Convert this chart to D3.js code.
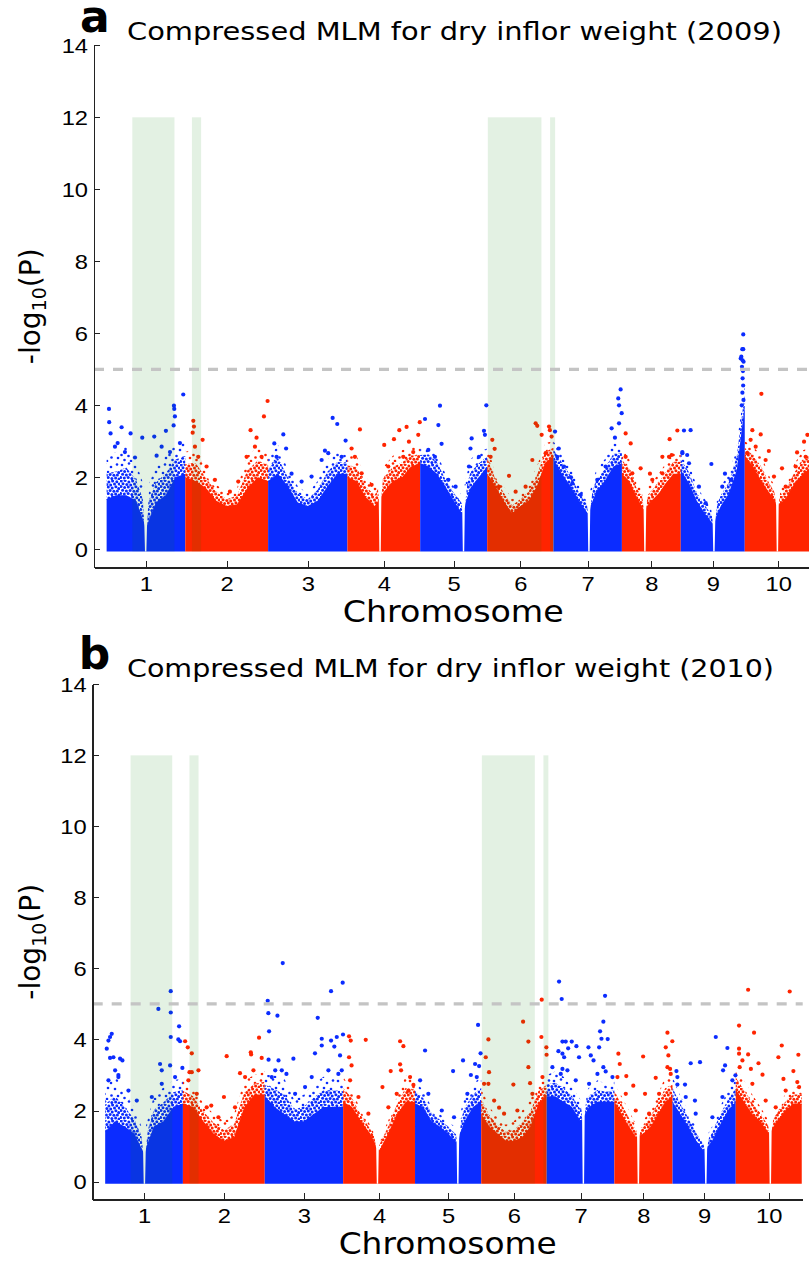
<!DOCTYPE html>
<meta charset="utf-8" />
<title>Compressed MLM for dry inflor weight</title>
<script src="https://cdn.jsdelivr.net/npm/d3@7/dist/d3.min.js"></script>

<style>
  body {
    margin: 0;
    padding: 0;
    background: #fff;
  }

  svg {
    display: block;
    font-family: "DejaVu Sans", sans-serif;
  }

  .axis path,
  .axis line {
    fill: none;
    stroke: #222;
    shape-rendering: crispEdges;
  }

  .axis path {
    stroke-width: 1.6;
  }

  .axis text {
    font-size: 21px;
    fill: #000;
  }
</style>

<body>
  <div id="chart"></div>
</body>

<script>
  // chromosome lengths in Mb
  const chromLengths = [73.5, 77.4, 74.1, 68.0, 62.6, 61.9, 64.0, 55.0, 59.8, 62.4];
  const chromLabels = ["1", "2", "3", "4", "5", "6", "7", "8", "9", "10"];
  const yTicks = [0, 2, 4, 6, 8, 10, 12, 14];
  const threshold = 5;

  // green bands: [chromosome, start Mb, end Mb], drawn up to 12
  const shadedRegions = [[1, 24.0, 63.4], [2, 6.2, 14.8], [6, 0.6, 50.7], [6, 58.8, 63.5]];
  const shadeTop = 12;

  // -log10(P) cloud, 9 evenly spaced samples along each chromosome
  // dense = top of the solid band, upper = top of the speckled band
  const denseA = [
    [1.4, 1.5, 1.5, 1.35, 0.6, 1.3, 1.5, 2.0, 2.1],
    [2.0, 1.9, 1.7, 1.35, 1.2, 1.25, 1.7, 2.0, 1.9],
    [1.9, 2.1, 1.75, 1.3, 1.2, 1.35, 1.75, 2.1, 2.1],
    [2.0, 1.9, 1.45, 1.2, 1.6, 1.9, 2.0, 2.3, 2.4],
    [2.4, 2.3, 2.1, 1.75, 1.35, 1.0, 1.7, 2.0, 2.3],
    [2.1, 1.75, 1.35, 1.0, 1.2, 1.35, 1.75, 2.4, 2.6],
    [2.5, 2.1, 1.75, 1.35, 1.0, 1.6, 1.9, 2.3, 2.4],
    [2.1, 1.9, 1.45, 1.1, 1.35, 1.55, 1.85, 2.1, 2.1],
    [2.2, 1.85, 1.35, 1.0, 0.7, 1.2, 1.55, 2.2, 4.0],
    [2.6, 2.3, 1.9, 1.55, 1.2, 1.45, 1.85, 2.1, 2.3]
  ];
  const upperA = [
    [2.7, 2.7, 2.9, 2.4, 1.6, 2.3, 2.6, 2.9, 3.0],
    [2.7, 2.8, 2.2, 1.8, 1.55, 1.7, 2.6, 2.85, 2.7],
    [2.5, 2.9, 2.2, 1.75, 1.55, 1.9, 2.5, 2.7, 2.6],
    [2.6, 2.6, 2.0, 1.75, 2.3, 2.6, 2.75, 2.85, 2.8],
    [2.8, 2.9, 2.7, 2.1, 1.75, 1.5, 2.5, 2.7, 2.8],
    [2.9, 2.1, 1.75, 1.4, 1.55, 1.8, 2.3, 2.95, 3.0],
    [3.0, 2.65, 2.3, 1.75, 1.4, 2.2, 2.5, 2.95, 2.9],
    [2.8, 2.5, 1.9, 1.6, 1.85, 2.1, 2.4, 2.7, 2.7],
    [2.75, 2.4, 1.75, 1.4, 1.1, 1.75, 2.1, 2.9, 4.6],
    [3.0, 2.85, 2.6, 2.0, 1.6, 1.9, 2.4, 2.75, 2.85]
  ];
  // thin empty columns (centromeres): [chromosome, Mb]
  const gapsA = [[1, 36.5], [4, 30.5], [5, 40.5], [7, 33.2], [8, 21.5], [9, 31.0], [10, 30.5]];
  // single markers standing out of the cloud: [chromosome, Mb, -log10(P)]
  const peaksA = [
    [1, 2.2, 3.9], [1, 2.4, 3.53], [1, 3.7, 3.22], [1, 14.0, 3.39], [1, 10.3, 2.95], [1, 22.4, 3.22],
    [1, 33.3, 3.1], [1, 44.5, 3.13], [1, 55.4, 3.29], [1, 62.9, 3.99], [1, 63.2, 3.9], [1, 63.8, 3.69],
    [1, 62.6, 3.44], [1, 71.6, 4.3],
    [1, 7.8, 2.85], [1, 17.1, 2.7], [1, 26.5, 2.55], [1, 46.7, 2.6], [1, 51.4, 2.85], [1, 59.2, 2.7], [1, 68.5, 2.95],
    [2, 7.5, 3.57], [2, 8.1, 3.41], [2, 6.9, 3.24], [2, 16.2, 3.04], [2, 61.0, 3.31], [2, 66.6, 3.1],
    [2, 73.5, 3.69], [2, 76.9, 4.12],
    [2, 9.0, 2.85], [2, 12.1, 2.57], [2, 19.9, 2.3], [2, 27.7, 1.93], [2, 41.7, 1.6], [2, 49.5, 1.88],
    [2, 57.3, 2.57], [2, 65.1, 2.85], [2, 71.3, 2.57],
    [3, 5.8, 2.94], [3, 14.2, 3.19], [3, 16.8, 2.8], [3, 53.1, 2.74], [3, 60.3, 3.65], [3, 64.6, 3.48],
    [3, 72.4, 3.02],
    [3, 7.9, 2.57], [3, 21.9, 2.1], [3, 31.3, 1.88], [3, 40.6, 2.02], [3, 50.0, 2.48], [3, 56.2, 2.67], [3, 68.7, 2.57],
    [4, 3.9, 2.8], [4, 11.7, 3.33], [4, 34.4, 2.9], [4, 43.5, 3.06], [4, 48.5, 3.31], [4, 55.3, 3.4],
    [4, 57.5, 2.99], [4, 66.2, 3.18], [4, 67.6, 3.53],
    [4, 7.0, 2.57], [4, 13.3, 2.11], [4, 22.6, 1.79], [4, 38.2, 2.3], [4, 52.2, 2.57], [4, 61.5, 2.7],
    [5, 4.5, 3.62], [5, 17.0, 3.45], [5, 18.5, 3.99], [5, 20.0, 2.93], [5, 48.1, 3.08], [5, 47.0, 2.8],
    [5, 59.6, 3.29], [5, 60.5, 3.18], [5, 61.8, 4.0],
    [5, 7.6, 2.76], [5, 13.8, 2.57], [5, 26.3, 1.93], [5, 33.1, 1.74], [5, 45.6, 2.3], [5, 54.9, 2.57],
    [6, 4.8, 3.04], [6, 7.0, 2.79], [6, 20.4, 2.04], [6, 45.3, 3.5], [6, 46.8, 3.43], [6, 50.9, 3.18],
    [6, 57.8, 3.41], [6, 58.6, 3.31], [6, 60.2, 3.13],
    [6, 3.2, 2.57], [6, 11.0, 1.74], [6, 26.6, 1.6], [6, 35.9, 1.74], [6, 42.2, 2.48], [6, 54.6, 2.67],
    [7, 1.5, 3.27], [7, 5.0, 2.8], [7, 16.4, 2.0], [7, 54.4, 3.36], [7, 57.5, 3.1], [7, 60.6, 4.19],
    [7, 61.3, 4.0], [7, 61.3, 3.5], [7, 62.8, 4.44], [7, 63.8, 3.78],
    [7, 3.6, 2.57], [7, 9.9, 2.3], [7, 17.7, 1.83], [7, 25.5, 1.51], [7, 41.0, 1.93], [7, 48.8, 2.3],
    [8, 3.5, 3.22], [8, 8.2, 2.94], [8, 17.5, 2.25], [8, 26.2, 2.1], [8, 37.8, 2.57], [8, 44.6, 3.06],
    [8, 46.5, 2.62], [8, 51.8, 3.3],
    [8, 3.5, 2.57], [8, 9.7, 2.11], [8, 28.4, 1.93], [8, 37.8, 2.11], [8, 44.0, 2.57],
    [9, 3.0, 3.3], [9, 9.2, 3.31], [9, 1.5, 2.7], [9, 6.0, 2.62], [9, 28.6, 2.37], [9, 41.3, 2.1],
    [9, 58.4, 5.97], [9, 57.5, 5.56], [9, 58.4, 5.56], [9, 56.0, 5.3], [9, 58.7, 5.21], [9, 57.2, 5.07],
    [9, 58.1, 4.95], [9, 57.8, 4.75], [9, 56.6, 5.35], [9, 57.8, 5.25], [9, 58.3, 4.55], [9, 57.6, 4.35],
    [9, 58.6, 4.15], [9, 57.0, 4.0],
    [9, 1.5, 2.67], [9, 7.7, 2.39], [9, 17.0, 1.74], [9, 23.3, 1.28], [9, 38.8, 1.74], [9, 46.6, 1.93],
    [10, 15.5, 4.32], [10, 7.1, 3.31], [10, 14.9, 3.19], [10, 5.5, 3.04], [10, 22.5, 2.73], [10, 58.5, 3.18],
    [10, 55.4, 2.99], [10, 48.9, 2.69], [10, 34.8, 2.25],
    [10, 2.4, 2.67], [10, 10.2, 2.85], [10, 19.5, 2.48], [10, 27.3, 2.02], [10, 38.2, 1.74], [10, 47.6, 2.3],
    [10, 56.9, 2.57]
  ];

  const denseB = [
    [1.4, 1.7, 1.55, 1.35, 0.8, 1.55, 1.7, 2.1, 2.2],
    [2.2, 2.1, 1.7, 1.35, 1.15, 1.25, 2.1, 2.45, 2.45],
    [2.4, 2.1, 1.9, 1.7, 1.7, 1.9, 2.1, 2.1, 2.1],
    [2.25, 2.1, 1.7, 1.35, 0.85, 1.35, 1.9, 2.25, 2.25],
    [2.2, 2.1, 1.7, 1.55, 1.35, 1.1, 1.7, 2.1, 2.25],
    [1.9, 1.55, 1.35, 1.15, 1.15, 1.25, 1.55, 2.2, 2.45],
    [2.4, 2.4, 2.25, 2.1, 1.7, 2.1, 2.25, 2.25, 2.25],
    [2.25, 1.9, 1.55, 1.25, 1.35, 1.55, 1.9, 2.25, 2.4],
    [2.25, 1.9, 1.55, 1.15, 0.85, 1.15, 1.6, 2.0, 2.25],
    [2.6, 2.25, 1.9, 1.7, 1.35, 1.7, 2.0, 2.2, 2.2]
  ];
  const upperB = [
    [2.8, 3.0, 2.55, 2.1, 1.35, 2.4, 2.65, 2.85, 2.9],
    [2.85, 2.65, 2.2, 1.9, 1.7, 1.9, 2.85, 3.0, 3.1],
    [3.0, 3.0, 2.9, 2.3, 2.45, 2.75, 2.95, 2.95, 2.9],
    [2.95, 2.55, 2.0, 1.6, 1.15, 1.7, 2.4, 3.0, 2.85],
    [2.85, 2.55, 2.1, 1.9, 1.7, 1.5, 2.4, 2.75, 2.95],
    [2.65, 2.1, 1.8, 1.6, 1.7, 2.0, 2.3, 2.85, 2.95],
    [3.0, 3.1, 2.95, 2.65, 2.3, 2.65, 2.85, 2.75, 2.85],
    [2.75, 2.4, 2.0, 1.6, 1.7, 2.1, 2.45, 2.95, 3.0],
    [2.95, 2.4, 2.0, 1.55, 1.15, 1.55, 2.1, 2.55, 2.95],
    [3.2, 2.85, 2.45, 2.1, 1.7, 2.1, 2.45, 2.65, 2.65]
  ];
  const gapsB = [[1, 37.1], [4, 32.5], [5, 40.5], [7, 34.7], [8, 22.7], [9, 31.5], [10, 32.7]];
  const peaksB = [
    [1, 1.5, 3.74], [1, 3.1, 3.97], [1, 4.6, 4.07], [1, 6.2, 4.16], [1, 4.6, 3.48], [1, 7.8, 3.5],
    [1, 14.1, 3.46], [1, 16.3, 3.41], [1, 9.4, 3.13], [1, 12.5, 3.0], [1, 50.3, 4.86], [1, 62.0, 5.36],
    [1, 62.0, 4.76], [1, 62.0, 4.07], [1, 69.9, 4.37], [1, 69.2, 4.0], [1, 70.8, 3.95], [1, 51.9, 3.31],
    [1, 53.5, 3.13], [1, 61.4, 3.27], [1, 73.0, 3.2],
    [1, 3.1, 2.85], [1, 12.5, 2.94], [1, 22.0, 2.56], [1, 29.9, 2.28], [1, 44.1, 2.38], [1, 53.5, 2.75], [1, 66.1, 2.94],
    [2, 2.1, 3.95], [2, 4.6, 3.78], [2, 8.4, 3.61], [2, 6.2, 3.08], [2, 8.4, 3.08], [2, 14.7, 3.13],
    [2, 41.4, 3.53], [2, 54.0, 3.05], [2, 64.2, 3.64], [2, 64.5, 3.58], [2, 72.0, 4.05], [2, 74.5, 3.48],
    [2, 26.8, 2.14], [2, 38.8, 2.38],
    [2, 5.2, 2.85], [2, 13.1, 2.47], [2, 22.5, 2.09], [2, 33.6, 1.81], [2, 49.3, 2.09], [2, 58.8, 2.94], [2, 66.7, 3.13],
    [3, 2.8, 5.09], [3, 3.4, 4.74], [3, 12.0, 4.67], [3, 4.1, 4.23], [3, 17.0, 6.15], [3, 3.6, 3.43],
    [3, 13.0, 3.41], [3, 9.9, 3.13], [3, 20.5, 3.03], [3, 27.1, 3.46], [3, 50.1, 4.61], [3, 62.7, 5.36],
    [3, 73.7, 5.6], [3, 62.7, 3.97], [3, 68.1, 4.07], [3, 74.0, 4.14], [3, 53.9, 4.02], [3, 53.9, 3.83],
    [3, 47.5, 3.61], [3, 65.8, 3.8], [3, 71.2, 3.55], [3, 72.8, 3.13],
    [3, 6.6, 2.94], [3, 16.1, 3.13], [3, 28.7, 2.47], [3, 38.1, 2.66], [3, 44.4, 2.94], [3, 60.2, 3.13], [3, 69.6, 3.03],
    [4, 5.6, 4.09], [4, 7.2, 3.97], [4, 21.4, 3.99], [4, 5.6, 3.5], [4, 8.0, 3.27], [4, 37.2, 2.66],
    [4, 45.0, 3.11], [4, 53.9, 3.95], [4, 57.0, 3.81], [4, 53.9, 3.3], [4, 54.8, 3.13], [4, 61.8, 2.56],
    [4, 66.5, 2.72],
    [4, 6.6, 2.85], [4, 14.5, 2.38], [4, 23.9, 1.91], [4, 42.8, 2.09], [4, 50.7, 2.47], [4, 63.3, 2.94],
    [5, 9.5, 3.69], [5, 36.0, 3.11], [5, 45.4, 3.41], [5, 52.8, 3.0], [5, 56.8, 3.31], [5, 59.6, 4.41],
    [5, 62.0, 3.61], [5, 60.6, 3.25],
    [5, 4.8, 2.85], [5, 12.6, 2.47], [5, 25.3, 2.0], [5, 36.9, 1.81], [5, 49.5, 2.47], [5, 58.4, 2.94],
    [6, 4.3, 3.5], [6, 6.8, 4.0], [6, 7.4, 3.08], [6, 6.8, 2.75], [6, 16.9, 2.08], [6, 30.4, 2.73],
    [6, 39.6, 4.5], [6, 44.6, 3.94], [6, 44.6, 3.22], [6, 46.2, 2.77], [6, 57.2, 5.12], [6, 56.9, 4.07],
    [6, 61.6, 3.78], [6, 61.8, 3.57],
    [6, 2.7, 2.75], [6, 12.2, 2.28], [6, 21.6, 1.91], [6, 34.2, 2.0], [6, 48.4, 2.47], [6, 57.9, 2.94],
    [7, 11.7, 5.63], [7, 14.2, 5.14], [7, 11.1, 3.67], [7, 14.9, 3.94], [7, 18.0, 3.94], [7, 23.7, 3.94],
    [7, 28.1, 3.81], [7, 14.9, 3.6], [7, 16.5, 3.5], [7, 20.3, 3.75], [7, 14.9, 3.17], [7, 13.3, 3.03],
    [7, 30.6, 3.5], [7, 39.5, 3.78], [7, 41.7, 3.55], [7, 50.5, 4.23], [7, 51.8, 4.02], [7, 53.6, 4.5],
    [7, 55.2, 5.23], [7, 57.7, 4.01], [7, 49.6, 3.78], [7, 53.6, 3.22], [7, 55.8, 3.1], [7, 44.3, 3.41],
    [7, 5.4, 3.22], [7, 19.6, 3.13], [7, 27.5, 2.85], [7, 40.1, 2.75], [7, 48.0, 3.03], [7, 62.2, 2.94],
    [8, 3.8, 3.6], [8, 5.1, 3.31], [8, 11.3, 2.97], [8, 17.9, 2.7], [8, 27.2, 3.52], [8, 29.0, 2.47],
    [8, 39.1, 2.92], [8, 48.6, 3.78], [8, 50.2, 4.19], [8, 54.8, 3.95], [8, 51.1, 3.55], [8, 50.2, 3.22],
    [8, 52.7, 3.17],
    [8, 2.9, 2.94], [8, 10.8, 2.47], [8, 20.2, 2.0], [8, 32.8, 1.91], [8, 42.3, 2.47], [8, 53.3, 3.03],
    [9, 3.7, 3.11], [9, 4.6, 2.73], [9, 11.8, 2.73], [9, 17.2, 3.33], [9, 26.0, 3.36], [9, 21.2, 2.28],
    [9, 40.9, 4.07], [9, 51.9, 3.76], [9, 49.7, 3.27], [9, 47.8, 3.13], [9, 59.5, 2.99],
    [9, 4.6, 2.94], [9, 12.5, 2.38], [9, 21.9, 1.91], [9, 37.7, 1.81], [9, 47.2, 2.38], [9, 56.6, 2.85],
    [10, 3.1, 4.39], [10, 3.1, 3.74], [10, 3.1, 3.6], [10, 3.7, 3.22], [10, 11.7, 5.4], [10, 17.3, 4.19],
    [10, 11.7, 3.58], [10, 14.3, 3.17], [10, 25.3, 3.01], [10, 43.5, 3.83], [10, 40.3, 3.5], [10, 45.1, 2.89],
    [10, 51.0, 5.35], [10, 54.5, 3.11], [10, 59.2, 3.57], [10, 58.2, 2.8], [10, 21.5, 3.33],
    [10, 6.3, 3.41], [10, 15.7, 2.75], [10, 28.3, 2.28], [10, 37.8, 2.09], [10, 47.2, 2.56], [10, 59.9, 2.66]
  ];

  const colors = ["#0b2cff", "#ff2400"];
  const chromStarts = [0].concat(Array.from(d3.cumsum(chromLengths)));
  const chromCenters = chromLengths.map(function (len, i) { return chromStarts[i] + len / 2; });

  const panels = [
    {
      letter: "a", title: "Compressed MLM for dry inflor weight (2009)",
      dense: denseA, upper: upperA, gaps: gapsA, peaks: peaksA,
      left: 94, right: 812.5, top: 45.3, bottom: 567.3,
      titleY: 40, titleLen: 655, labelLen: 221
    },
    {
      letter: "b", title: "Compressed MLM for dry inflor weight (2010)",
      dense: denseB, upper: upperB, gaps: gapsB, peaks: peaksB,
      left: 92.7, right: 802.7, top: 684.3, bottom: 1199.3,
      titleY: 677, titleLen: 647, labelLen: 218
    }
  ];

  const svg = d3.select("#chart")
    .append("svg")
    .attr("width", 809)
    .attr("height", 1262);

  // irregular dot tiles standing in for the overplotted markers
  const heavyDots = [[1.2, 1.0], [5.1, 0.6], [8.9, 2.1], [12.6, 0.9], [16.8, 1.8], [19.2, 4.1], [3.0, 3.7],
    [6.8, 4.4], [10.7, 4.9], [14.5, 3.9], [1.0, 6.6], [4.6, 7.5], [8.3, 7.1], [12.2, 8.0], [15.9, 6.8],
    [18.7, 8.6], [2.6, 10.3], [6.4, 10.9], [10.1, 10.4], [13.9, 11.2], [17.4, 11.0], [0.7, 13.4],
    [4.3, 13.9], [8.2, 13.6], [11.9, 14.6], [15.6, 14.1], [19.0, 14.9]];
  const lightDots = [[2, 3], [9, 1.5], [15, 5], [21, 2.5], [5.5, 9], [12, 10], [19, 11], [1.5, 15],
    [8.5, 16], [15.5, 17.5], [22, 18], [11, 21], [4.5, 20]];
  const defs = svg.append("defs");
  colors.forEach(function (c, i) {
    const heavy = defs.append("pattern")
      .attr("id", "heavy" + i)
      .attr("patternUnits", "userSpaceOnUse")
      .attr("width", 20)
      .attr("height", 16);
    heavyDots.forEach(function (p) {
      heavy.append("circle").attr("cx", p[0]).attr("cy", p[1]).attr("r", 1.5).attr("fill", c);
    });
    const light = defs.append("pattern")
      .attr("id", "light" + i)
      .attr("patternUnits", "userSpaceOnUse")
      .attr("width", 24)
      .attr("height", 22);
    lightDots.forEach(function (p) {
      light.append("circle").attr("cx", p[0]).attr("cy", p[1]).attr("r", 1.3).attr("fill", c);
    });
  });

  panels.forEach(drawPanel);

  function drawPanel(p) {
    const x = d3.scaleLinear().domain([-11.8, 659.6]).range([p.left, p.right]);
    const y = d3.scaleLinear().domain([-0.5, 14]).range([p.bottom, p.top]);
    const base = y(-0.06);
    const g = svg.append("g");

    const ax = function (d) { return x(d.pos); };

    // cloud of markers: solid band, heavy speckle, light speckle
    chromLengths.forEach(function (len, c) {
      const pts = p.dense[c].map(function (v, k) {
        const u = p.upper[c][k];
        return { pos: chromStarts[c] + len * k / 8, dense: v, mid: v + (u - v) * 0.55, upper: u };
      });
      g.append("path")
        .datum(pts)
        .attr("fill", colors[c % 2])
        .attr("d", d3.area().x(ax).y0(base).y1(function (d) { return y(d.dense); }));
      g.append("path")
        .datum(pts)
        .attr("fill", "url(#heavy" + (c % 2) + ")")
        .attr("d", d3.area().x(ax)
          .y0(function (d) { return y(d.dense) + 1; })
          .y1(function (d) { return y(d.mid); }));
      g.append("path")
        .datum(pts)
        .attr("fill", "url(#light" + (c % 2) + ")")
        .attr("d", d3.area().x(ax)
          .y0(function (d) { return y(d.mid); })
          .y1(function (d) { return y(d.upper); }));
    });

    // empty centromere columns
    p.gaps.forEach(function (gp) {
      const c = gp[0] - 1;
      const k = gp[1] / chromLengths[c] * 8;
      const lo = Math.min(7, Math.floor(k));
      const t = k - lo;
      const dv = p.dense[c][lo] + (p.dense[c][lo + 1] - p.dense[c][lo]) * t;
      const uv = p.upper[c][lo] + (p.upper[c][lo + 1] - p.upper[c][lo]) * t;
      const cx = x(chromStarts[c] + gp[1]);
      g.append("path")
        .attr("fill", "#fff")
        .attr("d", "M" + (cx - 0.7) + "," + base + "L" + (cx + 0.7) + "," + base +
          "L" + (cx + 1.3) + "," + y(dv) + "L" + (cx + 3.5) + "," + y(uv + 0.1) +
          "L" + (cx - 3.5) + "," + y(uv + 0.1) + "L" + (cx - 1.3) + "," + y(dv) + "Z");
    });

    // single markers
    g.selectAll("circle.peak")
      .data(p.peaks)
      .enter()
      .append("circle")
      .attr("class", "peak")
      .attr("cx", function (d) { return x(chromStarts[d[0] - 1] + d[1]); })
      .attr("cy", function (d) { return y(d[2]); })
      .attr("r", 2.1)
      .attr("fill", function (d) { return colors[(d[0] - 1) % 2]; });

    // candidate regions
    g.selectAll("rect.shade")
      .data(shadedRegions)
      .enter()
      .append("rect")
      .attr("class", "shade")
      .attr("x", function (d) { return x(chromStarts[d[0] - 1] + d[1]); })
      .attr("width", function (d) { return x(chromStarts[d[0] - 1] + d[2]) - x(chromStarts[d[0] - 1] + d[1]); })
      .attr("y", y(shadeTop))
      .attr("height", base - y(shadeTop))
      .attr("fill", "green")
      .attr("opacity", 0.11);

    // significance threshold
    g.append("line")
      .attr("x1", p.left)
      .attr("x2", p.right)
      .attr("y1", y(threshold))
      .attr("y2", y(threshold))
      .attr("stroke", "#c4c4c4")
      .attr("stroke-width", 3.2)
      .attr("stroke-dasharray", "10,9");

    // axes, ticks pointing inward
    const yAxis = g.append("g")
      .attr("class", "axis")
      .attr("transform", "translate(" + p.left + ",0)")
      .call(d3.axisLeft(y).tickValues(yTicks).tickSize(-6).tickSizeOuter(0).tickPadding(6));
    yAxis.selectAll(".tick text")
      .attr("x", -6 / 1.13)
      .attr("transform", "scale(1.13,1)");

    const xAxis = g.append("g")
      .attr("class", "axis")
      .attr("transform", "translate(0," + p.bottom + ")")
      .call(d3.axisBottom(x)
        .tickValues(chromCenters)
        .tickFormat(function (d, i) { return chromLabels[i]; })
        .tickSize(-6).tickSizeOuter(0).tickPadding(9));
    xAxis.selectAll(".tick text").attr("transform", "scale(1.13,1)");

    // labels
    g.append("text")
      .attr("x", (p.left + p.right) / 2)
      .attr("y", p.bottom + 55)
      .attr("text-anchor", "middle")
      .attr("font-size", 30)
      .attr("textLength", p.labelLen)
      .attr("lengthAdjust", "spacingAndGlyphs")
      .text("Chromosome");

    const yl = g.append("text")
      .attr("transform", "translate(40," + (p.top + p.bottom) / 2 + ") rotate(-90)")
      .attr("text-anchor", "middle")
      .attr("font-size", 28);
    yl.append("tspan").text("-log");
    yl.append("tspan").attr("font-size", 19).attr("dy", 6).text("10");
    yl.append("tspan").attr("dy", -6).text("(P)");

    g.append("text")
      .attr("x", p.left - 14)
      .attr("y", p.titleY - 8)
      .attr("font-size", 44)
      .attr("font-weight", "bold")
      .text(p.letter);

    g.append("text")
      .attr("x", 127)
      .attr("y", p.titleY)
      .attr("font-size", 25)
      .attr("textLength", p.titleLen)
      .attr("lengthAdjust", "spacingAndGlyphs")
      .text(p.title);
  }
</script>
